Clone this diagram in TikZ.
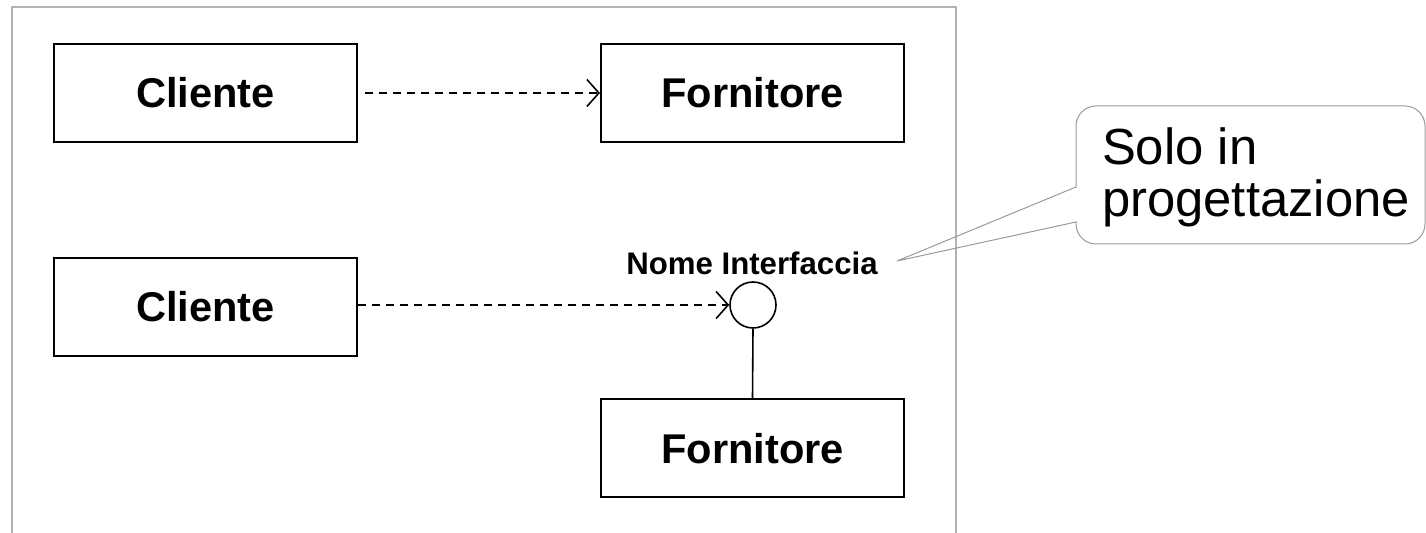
\documentclass[tikz,border=0pt]{standalone}
\usepackage{fontspec}
\setmainfont{Liberation Sans}
\usetikzlibrary{arrows.meta,calc}
\definecolor{framegray}{HTML}{B4B4B4}
\definecolor{notegray}{HTML}{9A9A9A}
\begin{document}
\begin{tikzpicture}[x=0.5pt,y=-0.5pt,
  classbox/.style={draw=black,line width=1pt,minimum width=151.5pt,minimum height=49pt,inner sep=0pt,font=\fontsize{20.8}{24}\selectfont\bfseries},
  dep/.style={draw=black,line width=0.75pt,dash pattern=on 4pt off 3pt,-{Straight Barb[length=6pt,width=13.5pt,line width=0.8pt]}},
  iface/.style={circle,draw=black,line width=0.8pt,minimum size=23pt,inner sep=0pt},
  frameline/.style={draw=framegray,line width=0.75pt},
  notebox/.style={draw=notegray,line width=0.5pt,rounded corners=10pt,minimum width=174.5pt,minimum height=69pt,inner sep=0pt,fill=white},
  noteline/.style={draw=notegray,line width=0.5pt}]
\useasboundingbox (0,0) rectangle (1426,533);
% frame
\draw[frameline] (12,533) -- (12,7) -- (956,7) -- (956,533);
% top row
\node[classbox] (c1) at (205.5,93) {Cliente};
\node[classbox] (f1) at (752.5,93) {Fornitore};
\coordinate (s1) at (365,93);
\draw[dep] (s1) -- (f1.west);
% bottom row
\node[classbox] (c2) at (205.5,307) {Cliente};
\node[iface] (i) at (753,305) {};
\node[classbox] (f2) at (752.5,448.5) {Fornitore};
\node[font=\fontsize{15.6}{18}\selectfont\bfseries] (lbl) at (752,263) {Nome Interfaccia};
\draw[dep] (c2.east |- i.west) -- (i.west);
\draw[black,line width=0.8pt] (i.south) -- (f2.north);
% callout
\node[notebox] (note) at (1250.5,175) {};
\node[anchor=west,align=left,font=\fontsize{25.4}{26}\selectfont] (notetext) at (1095,177) {Solo in\\progettazione};
\coordinate (tip) at (897,261);
\coordinate (pa) at (1076,187);
\coordinate (pb) at (1076,222);
\fill[white] ($(pa)+(-2,1)$) rectangle ($(pb)+(2,-1)$);
\draw[noteline] (pa) -- (tip) -- (pb);
\end{tikzpicture}
\end{document}
